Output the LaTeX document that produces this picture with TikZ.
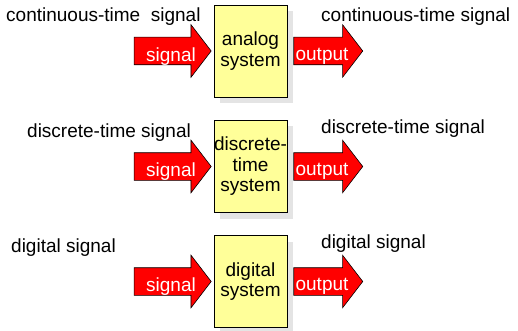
\documentclass[tikz,border=0pt]{standalone}
\usepackage{fontspec}
\setmainfont{Liberation Sans}
\usetikzlibrary{shapes.arrows,shadows,positioning}

\definecolor{boxyellow}{HTML}{FFFF99}
\definecolor{shadegrey}{HTML}{E4E4E4}

\tikzset{
  sysbox/.style={rectangle, draw=black, fill=boxyellow, line width=0.9pt,
    minimum width=73pt, minimum height=92pt, inner sep=0pt, align=center,
    font=\fontsize{19}{20.5}\selectfont,
    drop shadow={shadow xshift=6pt, shadow yshift=-6pt, fill=shadegrey, opacity=1}},
  blockarrow/.style={single arrow, draw=black, fill=red, line width=0.6pt,
    inner xsep=0pt, inner ysep=13.5pt, single arrow head extend=12.5pt,
    single arrow tip angle=105, minimum height=#1},
  arrowtext/.style={text=white, inner sep=0pt, anchor=base,
    font=\fontsize{19}{21}\selectfont},
  sigtext/.style={inner sep=0pt, anchor=base west, font=\fontsize{19}{21}\selectfont}
}

\begin{document}
\begin{tikzpicture}[x=1pt, y=-1pt]
    \useasboundingbox (0,0) rectangle (518,331);

    % analog
    \node [sysbox] (sys1) at (250.5, 51) {analog\\system};
    \node [blockarrow=77pt, anchor=tip] (in1) at ([xshift=-2pt]sys1.west) {};
    \node [blockarrow=69pt, anchor=tail] (out1) at ([xshift=6pt]sys1.east) {};
    \node [arrowtext] at (171, 62) {signal};
    \node [arrowtext] at (322, 61) {output};
    \node [sigtext] (lin1) at (6, 22) {continuous-time\ \ signal};
    \node [sigtext] (lout1) at (321, 22) {continuous-time signal};

    % discrete-time
    \node [sysbox] (sys2) at (250.5, 166.5) {discrete-\\time\\system};
    \node [blockarrow=77pt, anchor=tip] (in2) at ([xshift=-2pt]sys2.west) {};
    \node [blockarrow=69pt, anchor=tail] (out2) at ([xshift=6pt]sys2.east) {};
    \node [arrowtext] at (171, 176) {signal};
    \node [arrowtext] at (322, 175) {output};
    \node [sigtext] (lin2) at (27, 137) {discrete-time signal};
    \node [sigtext] (lout2) at (321, 133) {discrete-time signal};

    % digital
    \node [sysbox] (sys3) at (250.5, 281.5) {digital\\system};
    \node [blockarrow=77pt, anchor=tip] (in3) at ([xshift=-2pt]sys3.west) {};
    \node [blockarrow=69pt, anchor=tail] (out3) at ([xshift=6pt]sys3.east) {};
    \node [arrowtext] at (171, 291) {signal};
    \node [arrowtext] at (322, 290) {output};
    \node [sigtext] (lin3) at (11, 252) {digital signal};
    \node [sigtext] (lout3) at (321, 248) {digital signal};

\end{tikzpicture}
\end{document}
